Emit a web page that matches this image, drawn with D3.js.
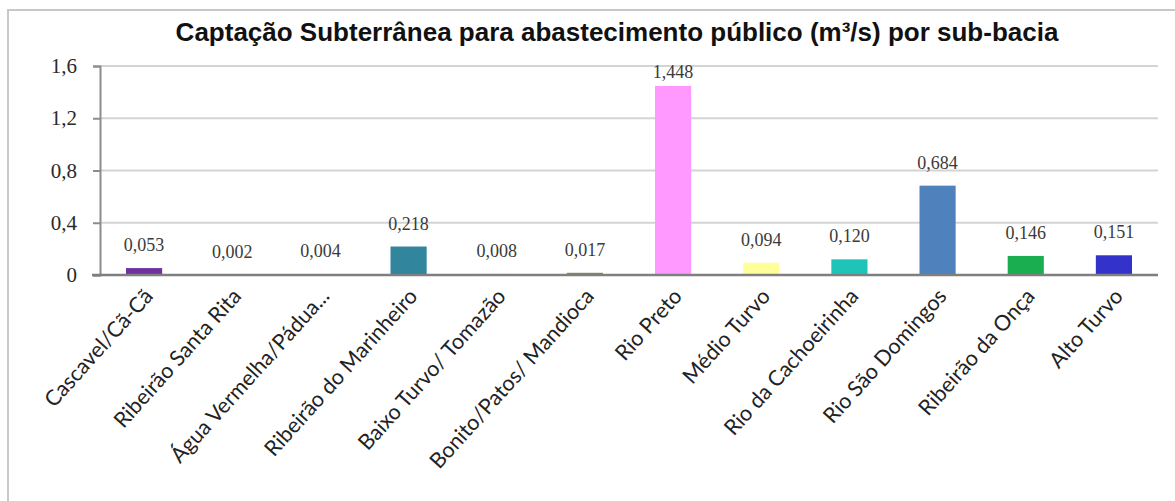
<!DOCTYPE html>
<html>
<head>
<meta charset="utf-8">
<script src="https://cdn.jsdelivr.net/npm/d3@7"></script>
<style>
  body { margin: 0; background: #fff; }
  svg { display: block; }
</style>
</head>
<body>
<svg id="chart" width="1175" height="501"></svg>
<script>

// Sub-bacias, in the order of the chart
var subBacias = ["Cascavel/Cã-Cã", "Ribeirão Santa Rita", "Água Vermelha/Pádua...",
    "Ribeirão do Marinheiro", "Baixo Turvo/ Tomazão", "Bonito/Patos/ Mandioca",
    "Rio Preto", "Médio Turvo", "Rio da Cachoeirinha", "Rio São Domingos",
    "Ribeirão da Onça", "Alto Turvo"];

// Captação subterrânea (m³/s)
var captacao = [0.053, 0.002, 0.004, 0.218, 0.008, 0.017,
    1.448, 0.094, 0.120, 0.684, 0.146, 0.151];

var barColors = ["#7030a0", "#8064a2", "#c0504d", "#31859c", "#9bbb59", "#77933c",
    "#ff99ff", "#ffff99", "#1fc4b9", "#4f81bd", "#1bae50", "#3333cc"];

var yTicks = [0, 0.4, 0.8, 1.2, 1.6];

var title = "Captação Subterrânea para abastecimento público (m³/s) por sub-bacia";

var svg = d3.select("#chart");
var plotLeft = 100, plotRight = 1158, plotTop = 66, plotBottom = 275;

// Format numbers with a comma as decimal mark
function comma(v, digits) {
    return v.toFixed(digits).replace(".", ",");
}

// Outer frame
svg.append("rect")
    .attr("x", 8).attr("y", 10)
    .attr("width", 1190).attr("height", 520)
    .style("fill", "none")
    .style("stroke", "#c8c8c8")
    .style("stroke-width", 2);

svg.append("text")
    .attr("x", 617).attr("y", 41)
    .attr("text-anchor", "middle")
    .style("font-family", "'Liberation Sans', Arial, sans-serif")
    .style("font-weight", "bold")
    .style("font-size", "26px")
    .style("fill", "#111")
    .text(title);

var x = d3.scaleBand()
    .domain(subBacias)
    .range([plotLeft, plotRight])
    .paddingInner(0.59)
    .paddingOuter(0.295);

var y = d3.scaleLinear()
    .domain([0, 1.6])
    .range([plotBottom, plotTop]);

// Gridlines
svg.append("g")
    .selectAll("line")
    .data(yTicks.slice(1))
    .enter().append("line")
    .attr("x1", plotLeft).attr("x2", plotRight)
    .attr("y1", function(d) { return y(d); })
    .attr("y2", function(d) { return y(d); })
    .style("stroke", "#d4d4d4")
    .style("stroke-width", 2);

// Y axis
var yAxis = svg.append("g")
    .attr("transform", "translate(" + plotLeft + ",0)")
    .call(d3.axisLeft(y).tickValues(yTicks).tickSize(7).tickPadding(16)
        .tickFormat(function(d) { return d === 0 ? "0" : comma(d, 1); }));
yAxis.select(".domain").style("stroke", "#8c8c8c").style("stroke-width", 2);
yAxis.selectAll(".tick line").style("stroke", "#8c8c8c").style("stroke-width", 2);
yAxis.selectAll(".tick text")
    .style("font-family", "'Liberation Serif', Cambria, serif")
    .style("font-size", "21px")
    .style("fill", "#2a2a2a");

// Bars
svg.append("g")
    .selectAll("rect")
    .data(captacao)
    .enter().append("rect")
    .attr("x", function(d, i) { return x(subBacias[i]); })
    .attr("y", function(d) { return y(d); })
    .attr("width", x.bandwidth())
    .attr("height", function(d) { return plotBottom - y(d); })
    .style("fill", function(d, i) { return barColors[i]; });

// X axis line
svg.append("line")
    .attr("x1", plotLeft - 8).attr("x2", plotRight)
    .attr("y1", plotBottom).attr("y2", plotBottom)
    .style("stroke", "#7f7f7f")
    .style("stroke-width", 2.5);

// Value labels, kept inside the plot area
svg.append("g")
    .selectAll("text")
    .data(captacao)
    .enter().append("text")
    .attr("x", function(d, i) { return x(subBacias[i]) + x.bandwidth() / 2; })
    .attr("y", function(d) { return Math.max(y(d) - 17, plotTop + 12); })
    .attr("text-anchor", "middle")
    .style("font-family", "'Liberation Serif', Cambria, serif")
    .style("font-size", "18px")
    .style("fill", "#3a3a3a")
    .text(function(d) { return comma(d, 3); });

// Category labels
svg.append("g")
    .selectAll("text")
    .data(subBacias)
    .enter().append("text")
    .attr("transform", function(d) {
        return "translate(" + (x(d) + x.bandwidth() / 2 - 1) + "," + (plotBottom + 12) + ") rotate(-48)";
    })
    .attr("dy", "0.7em")
    .attr("text-anchor", "end")
    .style("font-family", "Lato, 'Noto Sans', sans-serif")
    .style("font-size", "21.5px")
    .style("fill", "#222")
    .text(function(d) { return d; });

</script>
</body>
</html>
